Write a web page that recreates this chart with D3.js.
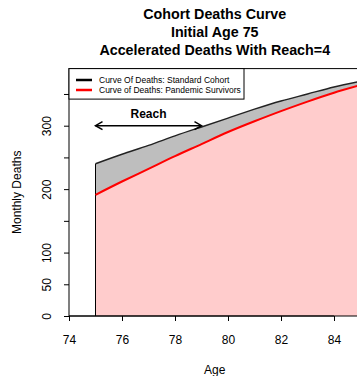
<!DOCTYPE html>
<html>
<head>
<meta charset="utf-8">
<script src="https://cdn.jsdelivr.net/npm/d3@7"></script>
<style>
  body { margin: 0; background: #fff; }
  text { font-family: "Liberation Sans", Arial, Helvetica, sans-serif; fill: #000; }
</style>
</head>
<body>
<svg class="chart"></svg>
<script>
const ages = [75, 76, 77, 78, 79, 80, 81, 82, 83, 84, 85];
const standardDeaths = [240, 255, 269, 284, 298, 312, 326, 339, 350, 361, 370];
const survivorDeaths = [191, 212, 232, 252, 271, 290, 307, 323, 338, 352, 364];
const xTicks = [74, 76, 78, 80, 82, 84];
const yTicks = [0, 50, 100, 150, 200, 250, 300, 350];
const yLabels = [0, 50, 100, 200, 300];
const titles = ["Cohort Deaths Curve", "Initial Age 75", "Accelerated Deaths With Reach=4"];
const legendLabels = ["Curve Of Deaths: Standard Cohort", "Curve of Deaths: Pandemic Survivors"];
const reachStart = 75, reachEnd = 79, reachLevel = 300;

const W = 357, H = 376;
const plotLeft = 69, plotTop = 68.6, plotBottom = 316, plotRight = 360.5;

const svg = d3.select(".chart").attr("width", W).attr("height", H);

const x = d3.scaleLinear().domain([74, 85]).range([plotLeft, plotRight]);
const y = d3.scaleLinear().domain([0, 390]).range([plotBottom, plotTop]);

const std = ages.map((a, i) => ({ age: a, v: standardDeaths[i] }));
const surv = ages.map((a, i) => ({ age: a, v: survivorDeaths[i] }));

const area = d3.area().x(d => x(d.age)).y0(y(0)).y1(d => y(d.v)).curve(d3.curveNatural);
const line = d3.line().x(d => x(d.age)).y(d => y(d.v)).curve(d3.curveNatural);

const plot = svg.append("g");

// grey area under standard cohort
plot.append("path").datum(std).attr("d", area).attr("fill", "#bebebe");
// pink area under survivors
plot.append("path").datum(surv).attr("d", area).attr("fill", "#ffcccc");
// left edge of polygon
plot.append("line")
    .attr("x1", x(ages[0])).attr("x2", x(ages[0]))
    .attr("y1", y(0)).attr("y2", y(standardDeaths[0]))
    .attr("stroke", "#000").attr("stroke-width", 1);
plot.append("path").datum(std).attr("d", line)
    .attr("fill", "none").attr("stroke", "#222").attr("stroke-width", 1.4);
plot.append("path").datum(surv).attr("d", line)
    .attr("fill", "none").attr("stroke", "#ff0000").attr("stroke-width", 2);

// plot box
svg.append("rect")
    .attr("x", plotLeft).attr("y", plotTop)
    .attr("width", plotRight - plotLeft).attr("height", plotBottom - plotTop)
    .attr("fill", "none").attr("stroke", "#000").attr("stroke-width", 1);

// axes
const xAxis = svg.append("g")
    .attr("transform", `translate(0, ${plotBottom})`)
    .call(d3.axisBottom(x).tickValues(xTicks).tickSize(5).tickPadding(14).tickSizeOuter(0));
xAxis.select(".domain").remove();
xAxis.append("line").attr("x1", x(74)).attr("x2", x(84)).attr("stroke", "#000");
xAxis.selectAll(".tick text").attr("font-size", 12).attr("font-family", "Liberation Sans, Arial, sans-serif");

const yAxis = svg.append("g")
    .attr("transform", `translate(${plotLeft}, 0)`)
    .call(d3.axisLeft(y).tickValues(yTicks).tickSize(5).tickSizeOuter(0)
        .tickFormat(d => yLabels.includes(d) ? d : ""));
yAxis.select(".domain").remove();
yAxis.selectAll(".tick text")
    .attr("font-size", 12)
    .attr("font-family", "Liberation Sans, Arial, sans-serif")
    .attr("text-anchor", "middle")
    .attr("x", 0).attr("dy", 0)
    .attr("transform", "translate(-18, 0) rotate(-90)");

svg.append("text")
    .attr("transform", `translate(20.5, ${(plotTop + plotBottom) / 2}) rotate(-90)`)
    .attr("text-anchor", "middle").attr("font-size", 12)
    .text("Monthly Deaths");

svg.append("text")
    .attr("x", (plotLeft + plotRight) / 2).attr("y", 374)
    .attr("text-anchor", "middle").attr("font-size", 12)
    .text("Age");

// titles
svg.selectAll(".title").data(titles).enter().append("text")
    .attr("class", "title")
    .attr("x", (plotLeft + plotRight) / 2)
    .attr("y", (d, i) => 19 + i * 18)
    .attr("text-anchor", "middle")
    .attr("font-size", 14.3).attr("font-weight", "bold")
    .text(d => d);

// reach arrow
const ay = y(reachLevel);
const ax1 = x(reachStart), ax2 = x(reachEnd);
const arrow = svg.append("g").attr("stroke", "#000").attr("stroke-width", 1.5).attr("fill", "none");
arrow.append("line").attr("x1", ax1).attr("x2", ax2).attr("y1", ay).attr("y2", ay);
arrow.append("path").attr("d", `M${ax1 + 7},${ay - 4}L${ax1},${ay}L${ax1 + 7},${ay + 4}`);
arrow.append("path").attr("d", `M${ax2 - 7},${ay - 4}L${ax2},${ay}L${ax2 - 7},${ay + 4}`);
svg.append("text")
    .attr("x", x((reachStart + reachEnd) / 2)).attr("y", 118)
    .attr("text-anchor", "middle").attr("font-size", 12).attr("font-weight", "bold")
    .text("Reach");

// legend
const lg = svg.append("g");
lg.append("rect")
    .attr("x", plotLeft).attr("y", plotTop)
    .attr("width", 175).attr("height", 30.5)
    .attr("fill", "#fff").attr("stroke", "#000").attr("stroke-width", 1);
const legendColors = ["#000", "#ff0000"];
legendLabels.forEach((lab, i) => {
    const ly = 80 + i * 10;
    lg.append("line").attr("x1", 76).attr("x2", 92).attr("y1", ly).attr("y2", ly)
        .attr("stroke", legendColors[i]).attr("stroke-width", 2.5);
    lg.append("text").attr("x", 99).attr("y", ly + 3)
        .attr("font-size", 8.5).text(lab);
});
</script>
</body>
</html>
